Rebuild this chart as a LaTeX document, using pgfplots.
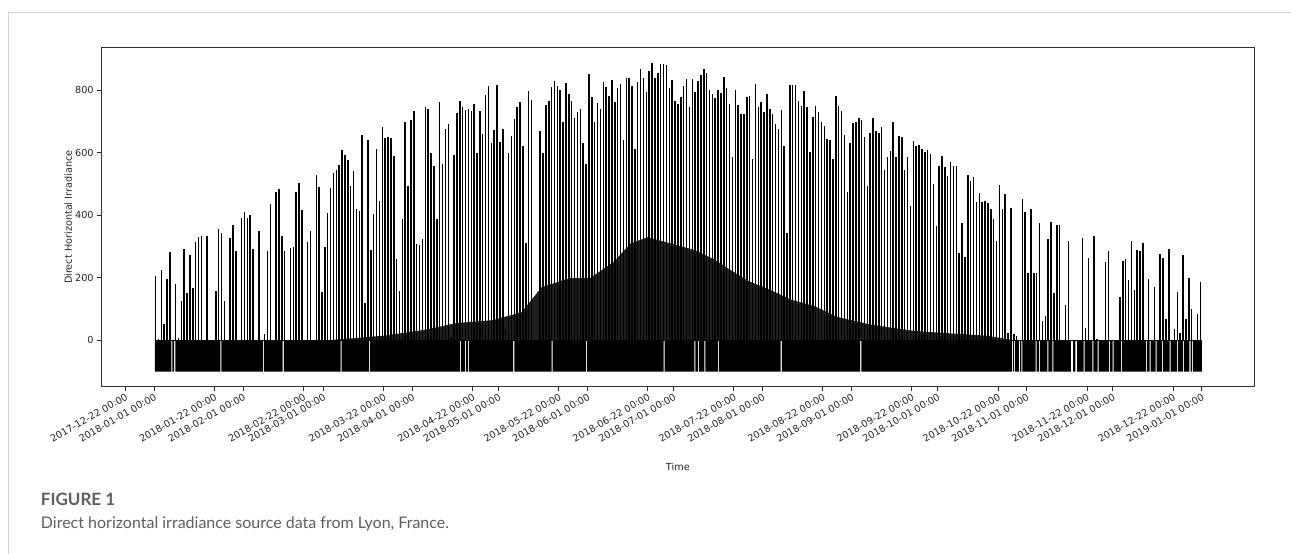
\documentclass[border=0pt]{standalone}
\usepackage{fontspec}
\setmainfont{DejaVu Sans}
\newfontfamily\capfont{Lato}
\usepackage{pgfplots}
\pgfplotsset{compat=1.18}
\definecolor{framegray}{HTML}{D0D0D0}
\definecolor{capgray}{HTML}{5E5E5E}
\begin{document}
\begin{tikzpicture}[x=1pt,y=1pt]
\useasboundingbox (0,0) rectangle (1291,554);
\draw[framegray, line width=1.2pt] (8.3,0) -- (8.3,541.3) -- (1291,541.3);
\begin{axis}[
  at={(101.7pt,167.3pt)}, anchor=south west,
  width=1152.3pt, height=339pt, scale only axis,
  xmin=-18.25, xmax=383.2, ymin=-148, ymax=936,
  axis line style={black!80, line width=0.9pt},
  xtick pos=bottom, ytick pos=left,
  tick align=outside, major tick length=4.5pt,
  tick style={black!85, line width=0.8pt},
  xtick={-10,0,21,31,52,59,80,90,111,120,141,151,172,181,202,212,233,243,264,273,294,304,325,334,355,365},
  xticklabels={2017-12-22 00:00,2018-01-01 00:00,2018-01-22 00:00,2018-02-01 00:00,2018-02-22 00:00,2018-03-01 00:00,2018-03-22 00:00,2018-04-01 00:00,2018-04-22 00:00,2018-05-01 00:00,2018-05-22 00:00,2018-06-01 00:00,2018-06-22 00:00,2018-07-01 00:00,2018-07-22 00:00,2018-08-01 00:00,2018-08-22 00:00,2018-09-01 00:00,2018-09-22 00:00,2018-10-01 00:00,2018-10-22 00:00,2018-11-01 00:00,2018-11-22 00:00,2018-12-01 00:00,2018-12-22 00:00,2019-01-01 00:00},
  ytick={0,200,400,600,800},
  /pgf/number format/assume math mode=true,
  tick label style={font=\fontsize{9.7}{11}\selectfont, text=black!85},
  x tick label style={rotate=30, anchor=north east, inner sep=1pt},
  xlabel={Time}, ylabel={Direct Horizontal Irradiance},
  label style={font=\fontsize{9.7}{11}\selectfont, text=black!85},
  xlabel style={at={(axis description cs:0.5,-0.236)}, anchor=center},
  ylabel style={at={(axis description cs:-0.029,0.5)}, anchor=center},
]
% band between -100 and 0 (night values), with the few columns that never reach -100
\addplot[fill=black, draw=none] coordinates {
(0.3,0)(0.3,-100)
(6.02,-100)(6.02,0)(6.38,0)(6.38,-100)
(7.02,-100)(7.02,0)(7.38,0)(7.38,-100)
(23.12,-100)(23.12,0)(23.48,0)(23.48,-100)
(38.02,-100)(38.02,0)(38.38,0)(38.38,-100)
(44.82,-100)(44.82,0)(45.18,0)(45.18,-100)
(65.02,-100)(65.02,0)(65.38,0)(65.38,-100)
(74.82,-100)(74.82,0)(75.18,0)(75.18,-100)
(106.62,-100)(106.62,0)(106.98,0)(106.98,-100)
(108.32,-100)(108.32,0)(108.68,0)(108.68,-100)
(109.32,-100)(109.32,0)(109.68,0)(109.68,-100)
(125.12,-100)(125.12,0)(125.48,0)(125.48,-100)
(138.52,-100)(138.52,0)(138.88,0)(138.88,-100)
(150.52,-100)(150.52,0)(150.88,0)(150.88,-100)
(177.52,-100)(177.52,0)(177.88,0)(177.88,-100)
(188.22,-100)(188.22,0)(188.58,0)(188.58,-100)
(189.52,-100)(189.52,0)(189.88,0)(189.88,-100)
(191.72,-100)(191.72,0)(192.08,0)(192.08,-100)
(196.52,-100)(196.52,0)(196.88,0)(196.88,-100)
(218.32,-100)(218.32,0)(218.68,0)(218.68,-100)
(246.02,-100)(246.02,0)(246.38,0)(246.38,-100)
(298.82,-100)(298.82,0)(299.18,0)(299.18,-100)
(299.62,-100)(299.62,0)(299.98,0)(299.98,-100)
(301.32,-100)(301.32,0)(301.68,0)(301.68,-100)
(302.12,-100)(302.12,0)(302.48,0)(302.48,-100)
(307.12,-100)(307.12,0)(307.48,0)(307.48,-100)
(308.32,-100)(308.32,0)(308.68,0)(308.68,-100)
(311.22,-100)(311.22,0)(311.58,0)(311.58,-100)
(312.92,-100)(312.92,0)(313.28,0)(313.28,-100)
(319.40,-100)(319.40,0)(320.20,0)(320.20,-100)
(321.00,-100)(321.00,0)(321.60,0)(321.60,-100)
(323.82,-100)(323.82,0)(324.18,0)(324.18,-100)
(326.92,-100)(326.92,0)(327.28,0)(327.28,-100)
(328.72,-100)(328.72,0)(329.08,0)(329.08,-100)
(332.72,-100)(332.72,0)(333.08,0)(333.08,-100)
(333.92,-100)(333.92,0)(334.28,0)(334.28,-100)
(336.82,-100)(336.82,0)(337.18,0)(337.18,-100)
(345.52,-100)(345.52,0)(345.88,0)(345.88,-100)
(346.82,-100)(346.82,0)(347.18,0)(347.18,-100)
(348.92,-100)(348.92,0)(349.28,0)(349.28,-100)
(351.22,-100)(351.22,0)(351.58,0)(351.58,-100)
(353.82,-100)(353.82,0)(354.18,0)(354.18,-100)
(356.42,-100)(356.42,0)(356.78,0)(356.78,-100)
(358.42,-100)(358.42,0)(358.78,0)(358.78,-100)
(360.72,-100)(360.72,0)(361.08,0)(361.08,-100)
(361.62,-100)(361.62,0)(361.98,0)(361.98,-100)
(365,-100)(365,0)};
% dense shoulder-hour region in summer
\addplot[fill=black!88, draw=none] coordinates {
(60,0)(80,15)(95,35)(105,55)(118,65)(128,90)(135,170)(145,200)(152,200)(160,250)(166,310)(172,330)(180,310)(188,290)(195,260)(200,230)(207,190)(215,160)(222,130)(230,110)(238,75)(250,50)(265,30)(290,15)(300,0)};
% zero line
\addplot[black, line width=1pt] coordinates {(0.3,0)(365,0)};
% daily peaks
\addplot[ycomb, black, line width=1.5pt] table {
0.5 206
1.5 5
2.5 225
3.5 51
4.5 195
5.5 282
7.5 179
8.5 9
9.5 126
10.5 293
11.5 152
12.5 272
13.5 168
14.5 315
15.5 330
16.5 334
18.5 334
21.5 158
22.5 357
23.5 345
24.5 126
26.5 328
27.5 368
28.5 286
30.5 391
31.5 410
32.5 391
33.5 402
34.5 291
36.5 351
38.5 21
39.5 285
40.5 437
42.5 476
43.5 483
44.5 334
45.5 286
47.5 295
48.5 300
49.5 476
50.5 503
51.5 417
53.5 315
54.5 349
56.5 530
57.5 491
58.5 156
59.5 299
60.5 406
61.5 488
62.5 536
63.5 544
64.5 561
65.5 610
66.5 592
67.5 576
68.5 494
69.5 541
70.5 419
71.5 414
72.5 658
73.5 120
74.5 640
75.5 289
76.5 405
77.5 611
78.5 446
79.5 683
80.5 648
81.5 652
82.5 646
83.5 590
84.5 260
85.5 158
86.5 389
87.5 697
88.5 494
89.5 705
90.5 735
91.5 307
92.5 304
93.5 325
94.5 745
95.5 740
96.5 600
97.5 558
98.5 387
99.5 763
100.5 563
101.5 676
102.5 692
103.5 12
104.5 592
105.5 726
106.5 766
107.5 747
108.5 736
109.5 740
110.5 735
111.5 757
112.5 600
113.5 735
114.5 661
115.5 785
116.5 815
117.5 632
118.5 673
119.5 818
120.5 634
121.5 675
122.5 35
123.5 600
124.5 654
125.5 707
126.5 745
127.5 761
128.5 622
129.5 312
130.5 799
131.5 768
134.5 669
135.5 600
136.5 752
137.5 766
138.5 811
139.5 828
140.5 815
141.5 800
142.5 698
143.5 824
144.5 787
145.5 766
146.5 710
147.5 729
148.5 739
149.5 630
150.5 563
151.5 851
152.5 778
153.5 698
154.5 759
155.5 739
156.5 826
157.5 810
158.5 781
159.5 832
160.5 761
161.5 808
162.5 819
163.5 642
164.5 838
165.5 840
166.5 814
167.5 611
168.5 826
169.5 867
170.5 838
171.5 793
172.5 863
173.5 887
174.5 838
175.5 856
176.5 883
177.5 883
178.5 881
179.5 808
180.5 832
181.5 766
182.5 755
183.5 779
184.5 814
185.5 836
186.5 745
187.5 836
188.5 793
189.5 829
190.5 848
191.5 867
192.5 856
193.5 802
194.5 787
195.5 774
196.5 802
197.5 791
198.5 841
199.5 808
200.5 755
201.5 586
202.5 800
203.5 752
204.5 723
205.5 723
206.5 778
207.5 780
208.5 580
209.5 820
210.5 745
211.5 761
212.5 729
213.5 787
214.5 739
215.5 723
216.5 691
217.5 675
218.5 737
219.5 622
220.5 345
221.5 817
222.5 817
223.5 817
224.5 766
225.5 750
226.5 798
227.5 745
228.5 604
229.5 715
230.5 750
231.5 731
232.5 697
233.5 686
234.5 643
235.5 640
236.5 580
237.5 783
238.5 750
239.5 735
240.5 658
241.5 476
242.5 632
243.5 695
244.5 697
245.5 710
246.5 706
247.5 651
248.5 494
249.5 662
250.5 710
251.5 670
252.5 662
253.5 684
254.5 545
255.5 588
256.5 606
257.5 698
258.5 585
259.5 654
260.5 652
261.5 545
262.5 588
263.5 430
264.5 638
265.5 622
266.5 624
267.5 611
268.5 604
269.5 609
270.5 597
271.5 499
272.5 366
273.5 559
274.5 590
275.5 555
276.5 526
277.5 571
278.5 559
279.5 559
280.5 281
281.5 374
282.5 268
283.5 528
284.5 510
285.5 523
286.5 441
287.5 471
288.5 443
289.5 446
290.5 439
291.5 419
292.5 389
293.5 318
294.5 496
295.5 421
296.5 469
297.5 24
298.5 424
299.5 19
300.5 13
302.5 451
303.5 410
304.5 216
305.5 419
306.5 216
307.5 216
308.5 376
309.5 62
310.5 78
311.5 325
312.5 378
313.5 152
314.5 368
315.5 368
317.5 112
318.5 317
323.5 326
324.5 40
325.5 262
327.5 335
328.5 5
331.5 252
332.5 285
334.5 2
336.5 138
337.5 254
338.5 259
339.5 192
340.5 318
341.5 161
342.5 289
343.5 286
344.5 313
346.5 195
348.5 171
350.5 275
351.5 262
352.5 67
353.5 293
355.5 38
356.5 155
357.5 24
358.5 272
359.5 67
360.5 200
361.5 101
363.5 85
364.5 186
};
\end{axis}
\node[anchor=base west, inner sep=0pt, font=\capfont\bfseries\fontsize{17}{20}\selectfont, text=capgray] at (40.7,48) {FIGURE 1};
\node[anchor=base west, inner sep=0pt, font=\capfont\fontsize{16}{19}\selectfont, text=capgray] at (40.7,25) {Direct horizontal irradiance source data from Lyon, France.};
\end{tikzpicture}
\end{document}
